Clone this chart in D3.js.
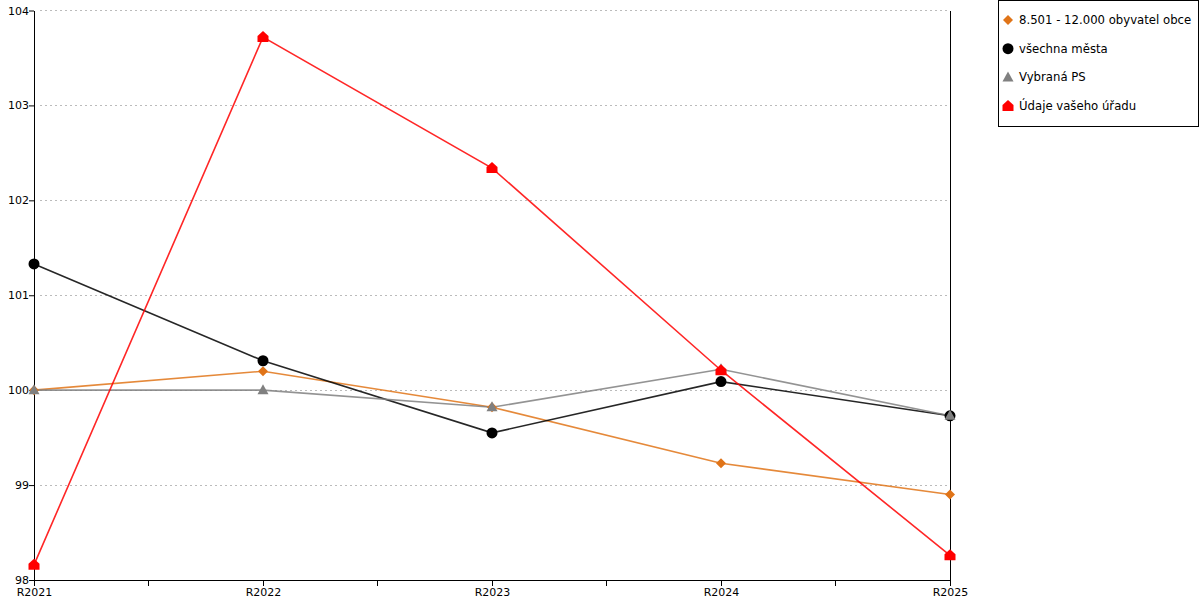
<!DOCTYPE html>
<html><head><meta charset="utf-8">
<script src="https://cdn.jsdelivr.net/npm/d3@7"></script>
<style>body{margin:0;background:#fff;} text{font-family:"DejaVu Sans",Verdana,sans-serif;}</style>
</head><body>
<svg id="c" width="1200" height="600"></svg>
<script>
const categories = ["R2021","R2022","R2023","R2024","R2025"];
const yTicks = [98,99,100,101,102,103,104];
const seriesNames = ["8.501 - 12.000 obyvatel obce","všechna města","Vybraná PS","Údaje vašeho úřadu"];
const seriesColors = ["#e07418","#000000","#808080","#ff0000"];
const seriesShapes = ["diamond","circle","triangle","house"];
const orangeValues = [100.0, 100.2, 99.82, 99.23, 98.9];
const blackValues = [101.33, 100.31, 99.55, 100.09, 99.73];
const greyValues = [100.0, 100.0, 99.82, 100.22, 99.73];
const redValues = [98.16, 103.72, 102.34, 100.21, 98.26];
const allValues = [orangeValues, blackValues, greyValues, redValues];

const svg = d3.select("#c");
const L = 34, R = 950, T = 10.5, B = 580;
const x = d3.scalePoint().domain(categories).range([L, R]);
const y = d3.scaleLinear().domain([98,104]).range([B, T]);

// gridlines
svg.append("g").selectAll("line").data(yTicks.slice(1)).join("line")
  .attr("x1", L+6).attr("x2", R).attr("y1", d=>y(d)).attr("y2", d=>y(d))
  .attr("stroke","#bbb").attr("stroke-dasharray","2,3").attr("stroke-width",1)
  .attr("shape-rendering","crispEdges");

// y axis
const ya = svg.append("g").attr("transform",`translate(${L},0)`)
  .call(d3.axisLeft(y).tickValues(yTicks).tickSize(5).tickSizeOuter(0).tickFormat(d3.format("d")));
ya.select(".domain").attr("stroke","#000");
ya.selectAll("text").attr("font-size",11).attr("fill","#000").attr("x",-5).attr("dy","0.32em");
ya.selectAll(".tick line").attr("stroke","#000");

// x axis
const xa = svg.append("g").attr("transform",`translate(0,${B})`)
  .call(d3.axisBottom(x).tickSize(6).tickSizeOuter(0));
xa.select(".domain").attr("stroke","#000");
xa.selectAll("text").attr("font-size",11).attr("fill","#000").attr("y",8);
xa.selectAll(".tick line").attr("stroke","#000");
// minor ticks
const mids = categories.slice(1).map((c,i)=> (x(categories[i]) + x(c))/2);
svg.append("g").selectAll("line").data(mids).join("line")
  .attr("x1",d=>d).attr("x2",d=>d).attr("y1",B).attr("y2",B+6).attr("stroke","#000");

// right line
svg.append("line").attr("x1",R).attr("x2",R).attr("y1",T).attr("y2",B)
  .attr("stroke","#000").attr("shape-rendering","crispEdges");

function shapePath(s, cx, cy){
  if(s==="diamond") return `M${cx},${cy-5}L${cx+5},${cy}L${cx},${cy+5}L${cx-5},${cy}Z`;
  if(s==="triangle") return `M${cx},${cy-6}L${cx+5.5},${cy+4}L${cx-5.5},${cy+4}Z`;
  if(s==="house") return `M${cx},${cy-6}L${cx+5.5},${cy-1}L${cx+5.5},${cy+5}L${cx-5.5},${cy+5}L${cx-5.5},${cy-1}Z`;
  return null;
}
function drawMarker(g, s, cx, cy, col){
  if(s==="circle") g.append("circle").attr("cx",cx).attr("cy",cy).attr("r",5.5).attr("fill",col);
  else g.append("path").attr("d",shapePath(s,cx,cy)).attr("fill",col);
}

const line = d3.line().x((d,i)=>x(categories[i])).y(d=>y(d));
allValues.forEach((vals,k)=>{
  svg.append("path").datum(vals).attr("d",line).attr("fill","none")
    .attr("stroke",seriesColors[k]).attr("stroke-width",1.6).attr("stroke-opacity",0.85);
});
allValues.forEach((vals,k)=>{
  const g = svg.append("g");
  vals.forEach((v,i)=>drawMarker(g, seriesShapes[k], x(categories[i]), y(v), seriesColors[k]));
});

// legend
const lg = svg.append("g");
lg.append("rect").attr("x",998.5).attr("y",0.5).attr("width",200).attr("height",126)
  .attr("fill","#fff").attr("stroke","#000");
seriesNames.forEach((n,k)=>{
  const cy = 20 + k*28.7;
  drawMarker(lg, seriesShapes[k], 1008, cy, seriesColors[k]);
  lg.append("text").attr("x",1019).attr("y",cy).attr("dy","0.35em").attr("font-size",11.7).attr("fill","#000").text(n);
});
</script>
</body></html>
